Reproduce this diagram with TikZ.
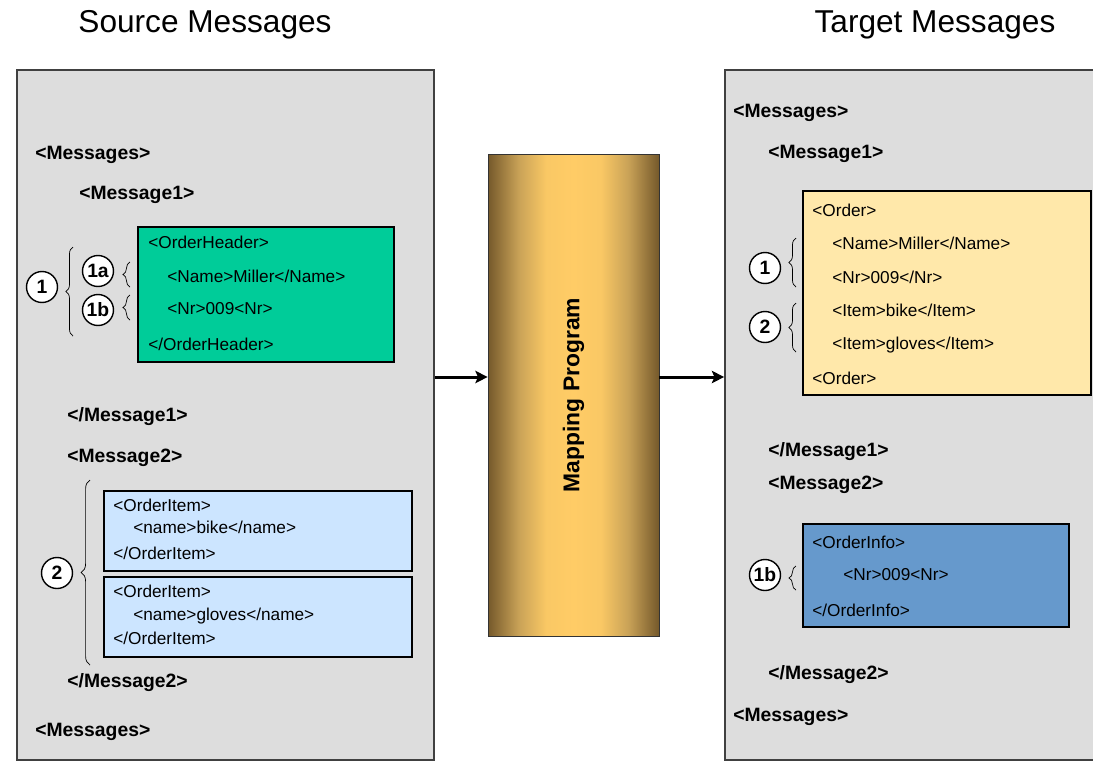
\documentclass[tikz,border=0pt]{standalone}
\usepackage{fontspec}
\setmainfont{Liberation Sans}
\usetikzlibrary{positioning, arrows.meta, decorations.pathreplacing, calc}
\definecolor{panelGrey}{HTML}{DDDDDD}
\definecolor{headerGreen}{HTML}{00CC99}
\definecolor{itemBlue}{HTML}{CCE5FF}
\definecolor{orderYellow}{HTML}{FFE8AA}
\definecolor{infoBlue}{HTML}{6699CC}
\definecolor{mapDark}{HTML}{75592B}
\definecolor{mapMid}{HTML}{C9A257}
\definecolor{mapLight}{HTML}{FFCC66}
\pgfdeclarehorizontalshading{mapshade}{100bp}{color(0bp)=(mapDark); color(25bp)=(mapDark);
  color(34bp)=(mapMid); color(42bp)=(mapLight!90!mapMid); color(50bp)=(mapLight);
  color(58bp)=(mapLight!90!mapMid); color(66bp)=(mapMid); color(75bp)=(mapDark); color(100bp)=(mapDark)}

\begin{document}
\begin{tikzpicture}[x=0.02cm, y=-0.02cm,
    title/.style={inner sep=0pt, font=\fontsize{18}{20}\selectfont},
    panel/.style={draw=black!75, line width=1pt, fill=panelGrey, inner sep=0pt},
    frag/.style={draw=black, thick, inner sep=0pt},
    tag/.style={anchor=west, inner sep=0pt, font=\bfseries\fontsize{11}{13}\selectfont},
    xml/.style={anchor=west, inner sep=0pt, font=\fontsize{9.8}{11}\selectfont},
    num/.style={circle, draw, thick, fill=white, inner sep=0pt, minimum size=0.62cm,
                font=\bfseries\fontsize{11}{13}\selectfont},
    curly/.style={decorate, decoration={brace, amplitude=4pt}, thin},
    flow/.style={-{Stealth[length=7pt, width=7pt, inset=1.5pt]}, line width=1.7pt}]
  \useasboundingbox (0,0) rectangle (1093,762);

  % titles
  \node[title] (srctitle) at (205,25) {Source Messages};
  \node[title] (tgttitle) at (935,25) {Target Messages};

  % panels and mapping program
  \node[panel, minimum width=8.34cm, minimum height=13.8cm] (src) at (225.5,415) {};
  \node[panel, minimum width=7.5cm, minimum height=13.8cm] (tgt) at (912.5,415) {};
  \node[draw=black!80, thin, inner sep=0pt, shading=mapshade,
        minimum width=3.42cm, minimum height=9.64cm] (map) at (573.5,395) {};
  \node[rotate=90, inner sep=0pt, font=\bfseries\fontsize{13}{15}\selectfont] (maplabel) at (map.center) {Mapping Program};

  \coordinate (flowline) at (0,377);
  \draw[flow] (src.east |- flowline) -- (map.west |- flowline);
  \draw[flow] (map.east |- flowline) -- (tgt.west |- flowline);

  % source side
  \node[tag] (s-msgs) at (35,155) {<Messages>};
  \node[tag] (s-m1) at (79,195) {<Message1>};
  \node[frag, fill=headerGreen, minimum width=5.12cm, minimum height=2.7cm] (hdr) at (266,294.5) {};
  \node[xml] (hdr-1) at (148,242) {<OrderHeader>};
  \node[xml] (hdr-2) at (167,276) {<Name>Miller</Name>};
  \node[xml] (hdr-3) at (167,309) {<Nr>009<Nr>};
  \node[xml] (hdr-4) at (148,344) {</OrderHeader>};
  \node[num] (s-one) at (42,287) {1};
  \node[num] (s-onea) at (98,271) {1a};
  \node[num] (s-oneb) at (98,310) {1b};
  \draw[curly] (73,336) -- (73,247);
  \draw[curly] (130,287) -- (130,262);
  \draw[curly] (130,320) -- (130,295);
  \node[tag] (s-m1end) at (67,417) {</Message1>};
  \node[tag] (s-m2) at (67,458) {<Message2>};
  \node[frag, fill=itemBlue, minimum width=6.16cm, minimum height=1.6cm] (item1) at (258,531) {};
  \node[xml] (item1-1) at (113,505) {<OrderItem>};
  \node[xml] (item1-2) at (133,527) {<name>bike</name>};
  \node[xml] (item1-3) at (113,553) {</OrderItem>};
  \node[frag, fill=itemBlue, minimum width=6.16cm, minimum height=1.6cm] (item2) at (258,617) {};
  \node[xml] (item2-1) at (113,591) {<OrderItem>};
  \node[xml] (item2-2) at (133,616) {<name>gloves</name>};
  \node[xml] (item2-3) at (113,638) {</OrderItem>};
  \node[num] (s-two) at (57,573) {2};
  \draw[curly, decoration={amplitude=5pt}] (90,665) -- (90,480);
  \node[tag] (s-m2end) at (67,683) {</Message2>};
  \node[tag] (s-msgsend) at (35,732) {<Messages>};

  % target side
  \node[tag] (t-msgs) at (733,113) {<Messages>};
  \node[tag] (t-m1) at (768,154) {<Message1>};
  \node[frag, fill=orderYellow, minimum width=5.76cm, minimum height=4.08cm] (order) at (947,293) {};
  \node[xml] (order-1) at (812,210) {<Order>};
  \node[xml] (order-2) at (832,243) {<Name>Miller</Name>};
  \node[xml] (order-3) at (832,277) {<Nr>009</Nr>};
  \node[xml] (order-4) at (832,310) {<Item>bike</Item>};
  \node[xml] (order-5) at (832,345) {<Item>gloves</Item>};
  \node[xml] (order-6) at (812,378) {<Order>};
  \node[num] (t-one) at (765,268) {1};
  \node[num] (t-two) at (765,327) {2};
  \draw[curly] (796,287) -- (796,238);
  \draw[curly] (796,352) -- (796,303);
  \node[tag] (t-m1end) at (768,452) {</Message1>};
  \node[tag] (t-m2) at (768,485) {<Message2>};
  \node[frag, fill=infoBlue, minimum width=5.32cm, minimum height=2.06cm] (info) at (936,575.5) {};
  \node[xml] (info-1) at (812,542) {<OrderInfo>};
  \node[xml] (info-2) at (843,575) {<Nr>009<Nr>};
  \node[xml] (info-3) at (812,610) {</OrderInfo>};
  \node[num] (t-oneb) at (765,575) {1b};
  \draw[curly] (796,590) -- (796,566);
  \node[tag] (t-m2end) at (768,675) {</Message2>};
  \node[tag] (t-msgsend) at (733,717) {<Messages>};
\end{tikzpicture}
\end{document}
